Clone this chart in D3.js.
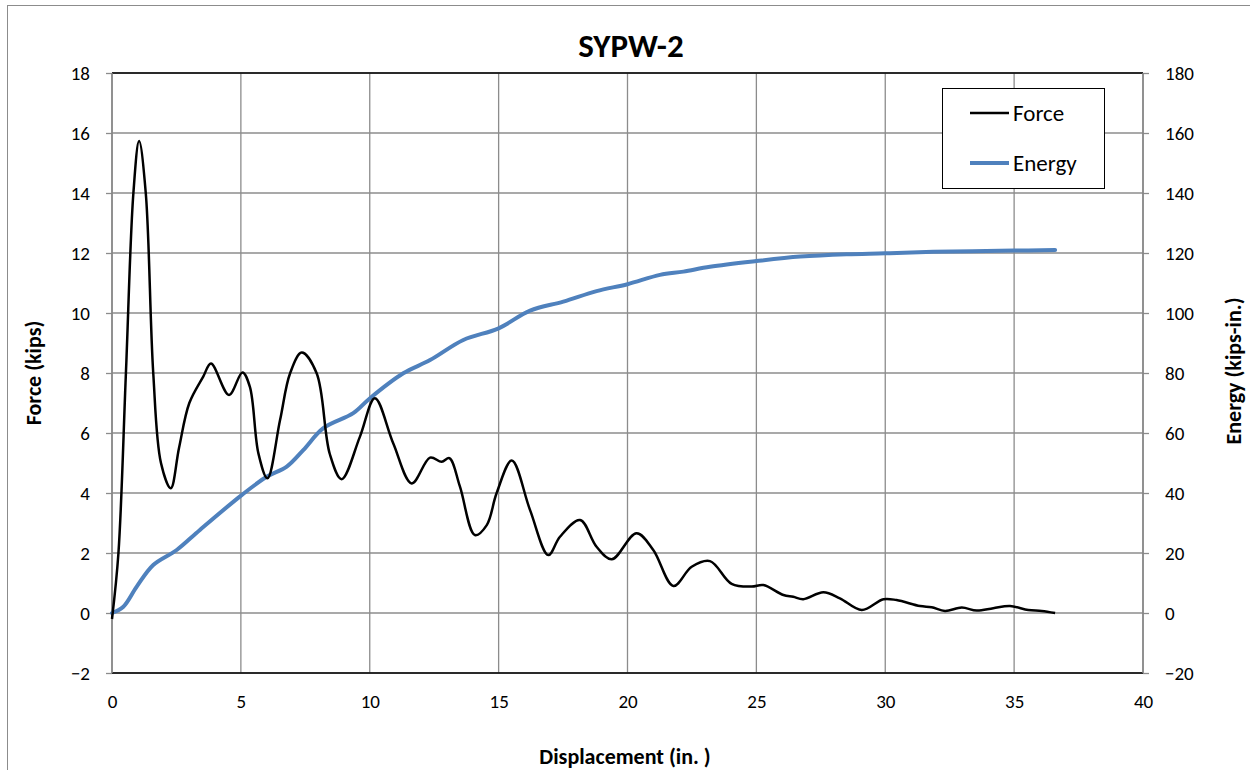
<!DOCTYPE html>
<html>
<head>
<meta charset="utf-8">
<script src="https://cdn.jsdelivr.net/npm/d3@7"></script>
<style>
  html, body { margin: 0; padding: 0; background: #fff; }
  svg { display: block; font-family: Carlito, Calibri, Lato, sans-serif; }
</style>
</head>
<body>
<svg id="chart" width="1250" height="770"></svg>
<script>
// Displacement (in.) vs force (kips)
const forceX = [0, 0.25, 0.54, 0.83, 1.05, 1.31, 1.6, 1.9, 2.28, 2.6, 3.0, 3.54, 3.84, 4.54, 5.06, 5.35, 5.68, 6.03, 6.52, 6.91, 7.36, 7.94, 8.45, 8.91, 9.62, 10.2, 10.91, 11.63, 12.34, 12.79, 13.09, 13.5, 14.08, 14.54, 14.92, 15.51, 16.22, 16.93, 17.38, 18.16, 18.8, 19.39, 20.35, 21.0, 21.78, 22.49, 23.2, 24.04, 24.82, 25.27, 26.05, 26.43, 26.82, 27.6, 28.24, 29.09, 29.93, 30.44, 31.35, 31.8, 32.32, 32.97, 33.55, 34.19, 34.84, 35.55, 36.07, 36.59];
const forceY = [-0.2, 2, 8, 14, 15.73, 14, 8, 5, 4.16, 5.5, 7.0, 7.88, 8.32, 7.27, 8.02, 7.54, 5.32, 4.49, 6.43, 7.99, 8.68, 7.99, 5.3, 4.46, 5.88, 7.16, 5.66, 4.32, 5.18, 5.04, 5.16, 4.21, 2.6, 2.93, 3.99, 5.08, 3.43, 1.93, 2.54, 3.1, 2.21, 1.79, 2.66, 2.1, 0.9, 1.54, 1.73, 0.97, 0.88, 0.93, 0.6, 0.54, 0.46, 0.69, 0.49, 0.1, 0.46, 0.43, 0.23, 0.19, 0.07, 0.18, 0.08, 0.16, 0.23, 0.1, 0.07, 0.0];

// Displacement (in.) vs absorbed energy (kips-in.)
const energyX = [0, 0.44, 0.96, 1.6, 2.51, 3.41, 5.03, 6.0, 6.78, 7.42, 8.2, 9.36, 10.01, 11.3, 12.34, 13.63, 15, 16.22, 17.51, 18.8, 20, 21.26, 22.17, 23.2, 25, 26.7, 28.5, 30, 31.86, 35, 36.59];
const energyY = [0, 2.1, 8.8, 16, 21, 27.7, 39.3, 45.4, 48.8, 54.3, 61.6, 66.6, 71.6, 79.9, 84.3, 91, 94.9, 100.8, 103.8, 107.3, 109.6, 112.7, 113.8, 115.4, 117.3, 118.8, 119.6, 119.9, 120.4, 120.8, 121];

const xTicks = [0, 5, 10, 15, 20, 25, 30, 35, 40];
const forceTicks = [-2, 0, 2, 4, 6, 8, 10, 12, 14, 16, 18];
const energyTicks = [-20, 0, 20, 40, 60, 80, 100, 120, 140, 160, 180];

const svg = d3.select("#chart");
const L = 112, R = 1143, T = 73, B = 673;

const x = d3.scaleLinear().domain([0, 40]).range([L, R]);
const yF = d3.scaleLinear().domain([-2, 18]).range([B, T]);
const yE = d3.scaleLinear().domain([-20, 180]).range([B, T]);

// chart frame
svg.append("rect").attr("x", 7.5).attr("y", 5.5).attr("width", 1260).attr("height", 780)
  .attr("fill", "none").attr("stroke", "#8c8c8c").attr("stroke-width", 1);

// gridlines
const grid = svg.append("g").attr("stroke", "#8c8c8c").attr("stroke-width", 1.3);
grid.selectAll("line.h").data(forceTicks).join("line")
  .attr("x1", L).attr("x2", R).attr("y1", d => yF(d)).attr("y2", d => yF(d));
grid.selectAll("line.v").data(xTicks).join("line")
  .attr("y1", T).attr("y2", B).attr("x1", d => x(d)).attr("x2", d => x(d));

// axes
const axisStyle = g => {
  g.select(".domain").remove();
  g.selectAll(".tick line").attr("stroke", "#8c8c8c").attr("stroke-width", 1.3);
  g.selectAll(".tick text").attr("fill", "#000").style("font-size", "19px")
    .style("font-family", "Carlito, Calibri, Lato, sans-serif");
};
svg.append("g").attr("transform", `translate(${L},0)`)
  .call(d3.axisLeft(yF).tickValues(forceTicks).tickSize(6).tickPadding(16).tickFormat(d3.format("d")))
  .call(axisStyle);
svg.append("g").attr("transform", `translate(${R},0)`)
  .call(d3.axisRight(yE).tickValues(energyTicks).tickSize(6).tickPadding(16).tickFormat(d3.format("d")))
  .call(axisStyle);
svg.append("g").attr("transform", `translate(0,${B})`)
  .call(d3.axisBottom(x).tickValues(xTicks).tickSize(0).tickPadding(22).tickFormat(d3.format("d")))
  .call(axisStyle);

// plot border lines
svg.append("line").attr("x1", L).attr("x2", R).attr("y1", T).attr("y2", T).attr("stroke", "#000").attr("stroke-width", 1.5);
svg.append("line").attr("x1", L).attr("x2", R).attr("y1", B).attr("y2", B).attr("stroke", "#000").attr("stroke-width", 1.5);
svg.append("line").attr("x1", L).attr("x2", L).attr("y1", T).attr("y2", B).attr("stroke", "#868686").attr("stroke-width", 1.5);
svg.append("line").attr("x1", R).attr("x2", R).attr("y1", T).attr("y2", B).attr("stroke", "#868686").attr("stroke-width", 1.5);

// series
const forceData = forceX.map((d, i) => [d, forceY[i]]);
const energyData = energyX.map((d, i) => [d, energyY[i]]);

svg.append("path").datum(energyData)
  .attr("fill", "none").attr("stroke", "#4f81bd").attr("stroke-width", 4).attr("stroke-linecap", "round")
  .attr("d", d3.line().x(d => x(d[0])).y(d => yE(d[1])).curve(d3.curveCatmullRom.alpha(0.5)));

svg.append("path").datum(forceData)
  .attr("fill", "none").attr("stroke", "#000").attr("stroke-width", 2.5).attr("stroke-linejoin", "round")
  .attr("d", d3.line().x(d => x(d[0])).y(d => yF(d[1])).curve(d3.curveCatmullRom.alpha(0.5)));

// title and axis titles
svg.append("text").attr("x", 631).attr("y", 57).attr("text-anchor", "middle")
  .style("font-size", "33px").style("font-weight", "bold").text("SYPW-2");
svg.append("text").attr("x", 625).attr("y", 764).attr("text-anchor", "middle")
  .style("font-size", "22px").style("font-weight", "bold").text("Displacement (in. )");
svg.append("text").attr("transform", "translate(41,373) rotate(-90)").attr("text-anchor", "middle")
  .style("font-size", "22px").style("font-weight", "bold").text("Force (kips)");
svg.append("text").attr("transform", "translate(1241,371) rotate(-90)").attr("text-anchor", "middle")
  .style("font-size", "22px").style("font-weight", "bold").text("Energy (kips-in.)");

// legend
const legend = svg.append("g");
legend.append("rect").attr("x", 942.5).attr("y", 88.5).attr("width", 162).attr("height", 100)
  .attr("fill", "#fff").attr("stroke", "#000").attr("stroke-width", 1);
const items = [
  { name: "Force", color: "#000", width: 2.5, y: 113 },
  { name: "Energy", color: "#4f81bd", width: 4, y: 163 }
];
items.forEach(it => {
  legend.append("line").attr("x1", 970).attr("x2", 1009).attr("y1", it.y).attr("y2", it.y)
    .attr("stroke", it.color).attr("stroke-width", it.width);
  legend.append("text").attr("x", 1013).attr("y", it.y).attr("dy", "0.35em")
    .style("font-size", "23px").text(it.name);
});
</script>
</body>
</html>
